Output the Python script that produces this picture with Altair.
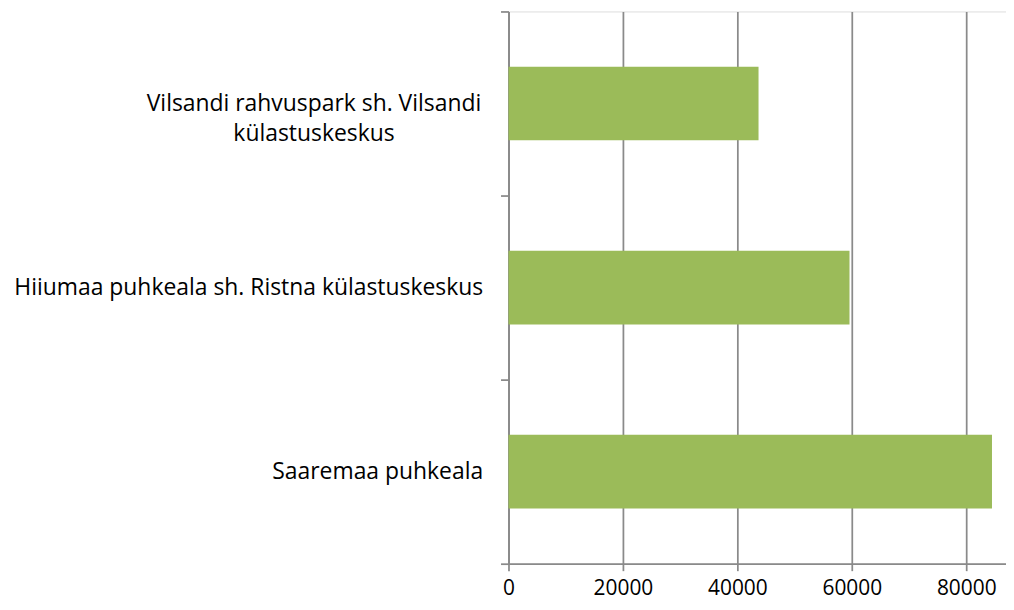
import altair as alt
import pandas as pd

categories = [
    "Vilsandi rahvuspark sh. Vilsandi külastuskeskus",
    "Hiiumaa puhkeala sh. Ristna külastuskeskus",
    "Saaremaa puhkeala",
]
values = [43700, 59600, 84500]
x_ticks = [0, 20000, 40000, 60000, 80000]

df = pd.DataFrame({"ala": categories, "kulastused": values})

multi = categories[0]
test = "datum.value == '" + multi + "'"
label_expr = (
    test + " ? ['Vilsandi rahvuspark sh. Vilsandi', 'külastuskeskus'] : datum.value"
)

grid_color = "#8a8a8a"
font = "Open Sans"

chart = (
    alt.Chart(df)
    .mark_bar(color="#9BBB59", size=74)
    .encode(
        x=alt.X(
            "kulastused:Q",
            scale=alt.Scale(domain=[0, 86950], nice=False, zero=True),
            axis=alt.Axis(
                title=None,
                values=x_ticks,
                grid=True,
                gridColor=grid_color,
                gridWidth=1.75,
                domainColor=grid_color,
                domainWidth=1.75,
                tickColor=grid_color,
                tickWidth=1.75,
                tickSize=7,
                labelFont=font,
                labelFontSize=21,
                labelColor="#000000",
                labelPadding=7,
                labelFlush=False,
                format="d",
            ),
        ),
        y=alt.Y(
            "ala:N",
            sort=categories,
            scale=alt.Scale(paddingInner=0, paddingOuter=0),
            axis=alt.Axis(
                title=None,
                tickBand="extent",
                grid=False,
                domainColor=grid_color,
                domainWidth=1.75,
                tickColor=grid_color,
                tickWidth=1.75,
                tickSize=8,
                labelFont=font,
                labelFontSize=23,
                labelColor="#000000",
                labelLimit=600,
                labelLineHeight=30,
                labelExpr=label_expr,
                labelAlign={"condition": {"test": test, "value": "center"}, "value": "right"},
                labelPadding={"condition": {"test": test, "value": 188}, "value": 18},
            ),
        ),
    )
    .properties(
        width=500,
        height=555,
        autosize=alt.AutoSizeParams(type="none"),
        padding={"left": 503, "top": 2, "right": 0, "bottom": 37},
    )
    .configure_view(stroke=None)
    .configure(background="#ffffff")
)

chart.save("out.html", embed_options={"renderer": "svg", "actions": False})
